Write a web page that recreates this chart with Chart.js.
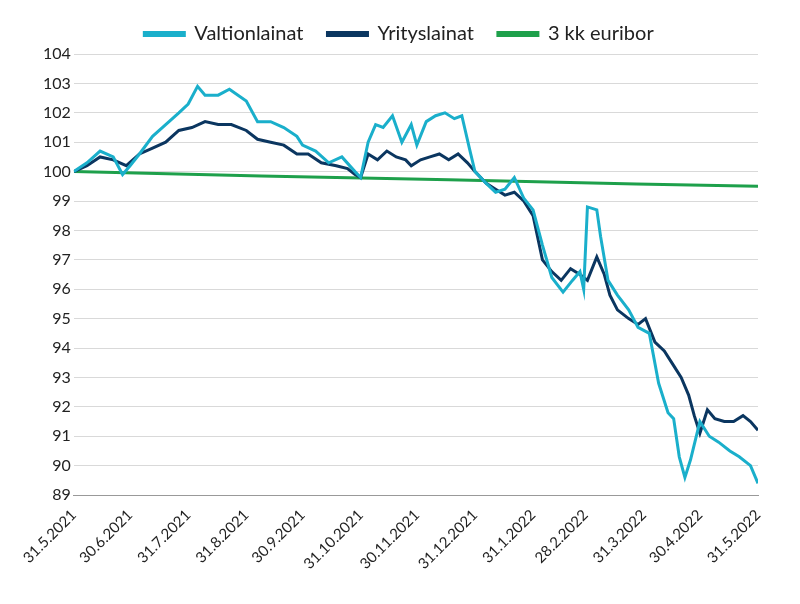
<!DOCTYPE html>
<html>
<head>
<meta charset="utf-8">
<script src="https://cdn.jsdelivr.net/npm/chart.js@4/dist/chart.umd.min.js"></script>
<style>
body{margin:0;background:#fff}
#wrap{width:800px;height:604px}
</style>
</head>
<body>
<div id="wrap"><canvas id="myChart"></canvas></div>
<script>
// month-end tick positions (days from 31.5.2021) and labels
var tickDays = [0,30,61,92,122,153,183,214,245,273,304,334,365];
var tickLabels = ["31.5.2021","30.6.2021","31.7.2021","31.8.2021","30.9.2021","31.10.2021","30.11.2021","31.12.2021","31.1.2022","28.2.2022","31.3.2022","30.4.2022","31.5.2022"];

// Valtionlainat
var valtioDays = [0,7,14,21,26,30,35,42,49,56,61,66,70,77,83,92,98,105,112,119,122,129,136,143,150,153,157,161,165,170,175,180,183,188,193,198,203,207,211,214,220,225,230,235,240,245,250,255,261,266,270,272,274,279,281,285,290,296,301,307,312,317,320,323,326,329,334,339,344,350,355,361,365];
var valtioVals = [100.0,100.3,100.7,100.5,99.9,100.2,100.6,101.2,101.6,102.0,102.3,102.9,102.6,102.6,102.8,102.4,101.7,101.7,101.5,101.2,100.9,100.7,100.3,100.5,100.0,99.8,101.0,101.6,101.5,101.9,101.0,101.6,100.9,101.7,101.9,102.0,101.8,101.9,100.8,100.0,99.6,99.3,99.4,99.8,99.1,98.7,97.5,96.4,95.9,96.3,96.6,96.0,98.8,98.7,97.8,96.3,95.8,95.3,94.7,94.5,92.8,91.8,91.6,90.3,89.6,90.2,91.5,91.0,90.8,90.5,90.3,90.0,89.4];

// Yrityslainat
var yritysDays = [0,7,14,21,28,35,42,49,56,63,70,77,84,92,98,105,112,119,125,132,140,146,150,153,157,162,167,172,177,180,185,190,195,200,205,210,214,220,225,230,235,240,245,250,255,260,265,270,274,279,283,286,290,296,301,305,310,315,320,324,328,331,334,338,342,347,352,357,361,365];
var yritysVals = [100.0,100.2,100.5,100.4,100.2,100.6,100.8,101.0,101.4,101.5,101.7,101.6,101.6,101.4,101.1,101.0,100.9,100.6,100.6,100.3,100.2,100.1,99.9,99.8,100.6,100.4,100.7,100.5,100.4,100.2,100.4,100.5,100.6,100.4,100.6,100.3,100.0,99.6,99.4,99.2,99.3,99.0,98.5,97.0,96.6,96.3,96.7,96.5,96.3,97.1,96.5,95.8,95.3,95.0,94.8,95.0,94.2,93.9,93.4,93.0,92.4,91.7,91.1,91.9,91.6,91.5,91.5,91.7,91.5,91.2];

// 3 kk euribor
var euriborDays = [0,100,200,300,365];
var euriborVals = [100.0,99.85,99.72,99.58,99.5];

function pts(d, v){ return d.map(function(x,i){ return {x:x, y:v[i]}; }); }

var font = "Lato, 'Open Sans', sans-serif";

var data = {
  datasets: [
    {label:"Valtionlainat", data:pts(valtioDays,valtioVals), borderColor:"#1AAFCB", backgroundColor:"#1AAFCB", borderWidth:3, pointRadius:0, tension:0},
    {label:"Yrityslainat", data:pts(yritysDays,yritysVals), borderColor:"#0B3660", backgroundColor:"#0B3660", borderWidth:3, pointRadius:0, tension:0},
    {label:"3 kk euribor", data:pts(euriborDays,euriborVals), borderColor:"#1EA04B", backgroundColor:"#1EA04B", borderWidth:3, pointRadius:0, tension:0}
  ]
};

const config = {
  type: 'line',
  data: data,
  options: {
    responsive: true,
    maintainAspectRatio: false,
    animation: false,
    layout: {padding: {left: 40, right: 42, top: 0, bottom: 28}},
    plugins: {
      legend: {
        labels: {font: {family: font, size: 20}, color: "#222", boxWidth: 40, boxHeight: 3, padding: 24}
      },
      tooltip: {enabled: false}
    },
    scales: {
      x: {
        type: 'linear', min: 0, max: 365,
        afterBuildTicks: function(axis){ axis.ticks = tickDays.map(function(d){ return {value:d}; }); },
        ticks: {
          autoSkip: false, maxRotation: 45, minRotation: 45,
          font: {family: font, size: 15}, color: "#222",
          callback: function(value){ var i = tickDays.indexOf(value); return i >= 0 ? tickLabels[i] : ''; }
        },
        grid: {display: false, drawTicks: true},
        border: {color: "#999"}
      },
      y: {
        min: 89, max: 104,
        ticks: {stepSize: 1, font: {family: font, size: 16}, color: "#222"},
        grid: {color: "#d9d9d9", drawTicks: false},
        border: {display: false}
      }
    }
  }
};

const myChart = new Chart(document.getElementById('myChart'), config);
</script>
</body>
</html>
